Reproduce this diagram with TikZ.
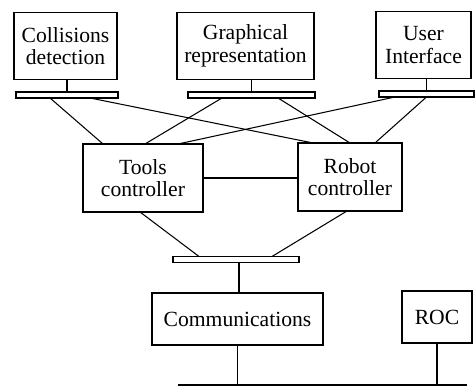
\documentclass[tikz,border=0pt]{standalone}
\usepackage{fontspec}
\setmainfont{Liberation Serif}
\begin{document}
\begin{tikzpicture}[semithick,text badly centered,font=\fontsize{12.3}{12.8}\selectfont]

	\useasboundingbox (0,0) rectangle (9.5,7.72);

	\begin{scope}[every node/.style={draw,rectangle,align=center,inner sep=0pt,outer sep=0cm}]
		\node[minimum width=2.06cm,minimum height=1.34cm] (collisions) at (1.31,6.80) {Collisions\\detection};
		\node[minimum width=2.74cm,minimum height=1.34cm] (graphical)  at (4.91,6.80) {Graphical\\representation};
		\node[minimum width=1.90cm,minimum height=1.34cm] (user)       at (8.47,6.82) {User\\Interface};
		\node[minimum width=2.40cm,minimum height=1.36cm] (tools)      at (2.86,4.16) {Tools\\controller};
		\node[minimum width=2.08cm,minimum height=1.36cm] (robot)      at (7.00,4.18) {Robot\\controller};
		\node[minimum width=3.42cm,minimum height=1.04cm] (comm)       at (4.75,1.34) {Communications};
		\node[minimum width=1.40cm,minimum height=1.04cm] (roc)        at (8.74,1.38) {ROC};
	\end{scope}

	% connection bars
	\begin{scope}[every node/.style={draw,rectangle,minimum height=0.12cm,inner sep=0pt,outer sep=0cm}]
		\node[minimum width=2.04cm] (cbar) at (1.34,5.82) {};
		\node[minimum width=2.54cm] (gbar) at (5.03,5.82) {};
		\node[minimum width=1.90cm] (ubar) at (8.53,5.84) {};
		\node[minimum width=2.52cm] (lbar) at (4.72,2.53) {};
	\end{scope}

	\coordinate (busL) at (3.56,0.02);
	\coordinate (busR) at (9.34,0.02);

	\draw (cbar.north) -- (cbar.north |- collisions.south);
	\draw (gbar.north) -- (gbar.north |- graphical.south);
	\draw (ubar.north) -- (ubar.north |- user.south);

	\draw ([xshift=-0.34cm]cbar.south) -- ([xshift=-0.80cm]tools.north);
	\draw ([xshift=0.46cm]cbar.south)  -- ([xshift=-0.74cm]robot.north);
	\draw ([xshift=-0.59cm]gbar.south) -- ([xshift=0.04cm]tools.north);
	\draw ([xshift=0.53cm]gbar.south)  -- (robot.north);
	\draw ([xshift=-0.63cm]ubar.south) -- ([xshift=0.70cm]tools.north);
	\draw (ubar.south)                 -- ([xshift=0.50cm]robot.north);

	\draw (tools.east) -- (tools.east -| robot.west);
	\draw ([xshift=-0.06cm]tools.south) -- ([xshift=-0.74cm]lbar.north);
	\draw ([xshift=-0.06cm]robot.south) -- ([xshift=0.72cm]lbar.north);
	\draw ([xshift=0.06cm]lbar.south) -- ([xshift=0.06cm]lbar.south |- comm.north);

	\draw (busL) -- (busR);
	\draw (comm.south) -- (comm.south |- busL);
	\draw (roc.south) -- (roc.south |- busL);

\end{tikzpicture}
\end{document}
